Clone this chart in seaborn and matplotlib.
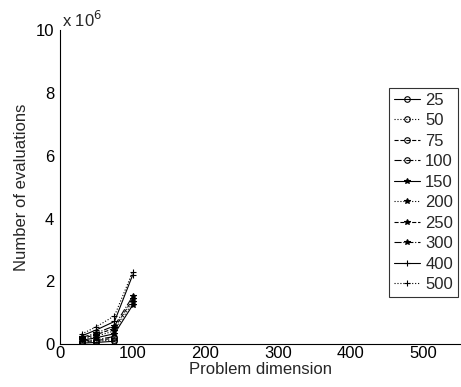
import matplotlib
matplotlib.use("Agg")
import matplotlib.pyplot as plt
import seaborn as sns
import pandas as pd

sns.set_style("white")
plt.rcParams['font.family'] = ['Liberation Sans', 'DejaVu Sans']

dims_short = [30, 50, 75]
dims_long = [30, 50, 75, 100]

series_labels = ['25', '50', '75', '100', '150', '200', '250', '300', '400', '500']
series_values = {
    '25':  [0.03, 0.05, 0.09],
    '50':  [0.05, 0.08, 0.14],
    '75':  [0.07, 0.11, 0.19],
    '100': [0.09, 0.14, 0.24],
    '150': [0.12, 0.20, 0.33, 1.24],
    '200': [0.15, 0.25, 0.42, 1.33],
    '250': [0.18, 0.30, 0.50, 1.43],
    '300': [0.21, 0.35, 0.58, 1.52],
    '400': [0.26, 0.45, 0.72, 2.20],
    '500': [0.32, 0.55, 0.90, 2.30],
}
x_ticks = [0, 100, 200, 300, 400, 500]
y_ticks = [0, 2, 4, 6, 8, 10]

styles = {
    '25':  ('-', 'o'), '50': (':', 'o'), '75': ('--', 'o'), '100': ('-.', 'o'),
    '150': ('-', '*'), '200': (':', '*'), '250': ('--', '*'), '300': ('-.', '*'),
    '400': ('-', '+'), '500': (':', '+'),
}

FS = 12

fig = plt.figure(figsize=(4.61, 3.87), dpi=100)
ax = fig.add_axes([0.130, 0.111, 0.868, 0.811])

for lab in series_labels:
    vals = series_values[lab]
    xs = dims_short if len(vals) == 3 else dims_long
    df = pd.DataFrame({'dim': xs, 'evals': [v * 1e6 for v in vals]})
    ls, mk = styles[lab]
    kw = dict(marker=mk, markersize=4, markeredgewidth=0.8)
    if mk == 'o':
        kw['markerfacecolor'] = 'none'
    kw['markeredgecolor'] = 'black'
    sns.lineplot(data=df, x='dim', y='evals', ax=ax, color='black',
                 linestyle=ls, linewidth=0.8, label=lab, **kw)

ax.set_xlim(0, 550)
ax.set_ylim(0, 10e6)
ax.set_xticks(x_ticks)
ax.set_xticklabels([str(t) for t in x_ticks])
ax.set_yticks([t * 1e6 for t in y_ticks])
ax.set_yticklabels([str(t) for t in y_ticks])
ax.tick_params(direction='in', length=3, labelsize=FS, colors='black')
ax.tick_params(axis='x', pad=1.5)
ax.tick_params(axis='y', pad=4)
for s in ['top', 'right']:
    ax.spines[s].set_visible(False)
for s in ['left', 'bottom']:
    ax.spines[s].set_color('black')
    ax.spines[s].set_linewidth(0.8)

ax.set_xlabel('Problem dimension', fontsize=FS, labelpad=0.5)
ax.set_ylabel('Number of evaluations', fontsize=FS, labelpad=5)
ax.text(0.005, 1.0, r'x 10$^{6}$', transform=ax.transAxes, fontsize=FS,
        ha='left', va='bottom')

leg = ax.legend(loc='upper right', bbox_to_anchor=(0.995, 0.817), fontsize=FS,
                frameon=True, fancybox=False, edgecolor='black',
                handlelength=1.6, handletextpad=0.3, labelspacing=0.33,
                borderpad=0.3, borderaxespad=0)
leg.get_frame().set_linewidth(0.8)

fig.savefig('out.png', dpi=100)
